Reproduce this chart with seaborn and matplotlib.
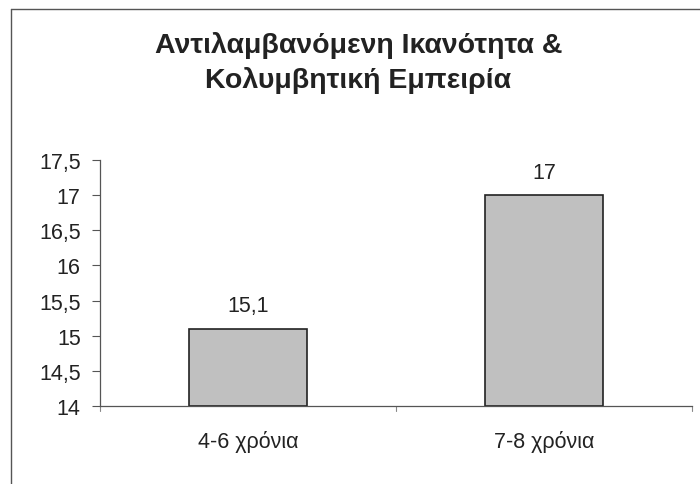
import matplotlib
matplotlib.use('Agg')
import matplotlib.pyplot as plt
import seaborn as sns
import pandas as pd
from matplotlib.lines import Line2D
from matplotlib.ticker import FuncFormatter


title = 'Αντιλαμβανόμενη Ικανότητα &\nΚολυμβητική Εμπειρία'
groups = ['4-6 χρόνια', '7-8 χρόνια']
scores = [15.1, 17]
score_labels = ['15,1', '17']

sns.set_style('white')
plt.rcParams['font.family'] = ['Liberation Sans', 'DejaVu Sans']

df = pd.DataFrame({'group': groups, 'score': scores})

fig = plt.figure(figsize=(7, 4.85), dpi=100)
ax = fig.add_axes([0.143, 0.161, 0.846, 0.507])

sns.barplot(df, x='group', y='score', color='#c0c0c0', edgecolor='#222222',
            linewidth=1.2, width=0.4, saturation=1, ax=ax)
# bars start at 14 rather than 0
for p, v in zip(ax.patches, scores):
    p.set_y(14)
    p.set_height(v - 14)

ax.set_ylim(14, 17.5)
ax.set_xlim(-0.5, 1.5)
ax.set_yticks([14, 14.5, 15, 15.5, 16, 16.5, 17, 17.5])
ax.yaxis.set_major_formatter(FuncFormatter(lambda v, _: f'{v:g}'.replace('.', ',')))
ax.set_xlabel('')
ax.set_ylabel('')
ax.tick_params(axis='y', left=True, length=6, width=0.8, color='#555555',
               labelsize=15.5, pad=8, labelcolor='#222222')
ax.tick_params(axis='x', bottom=False, labelsize=15.5, pad=14, labelcolor='#222222')
# category boundary ticks on x axis
for xb in [-0.5, 0.5, 1.5]:
    ax.plot([xb, xb], [0, -0.02], transform=ax.get_xaxis_transform(),
            color='#888888', lw=0.8, clip_on=False)

for s in ['top', 'right']:
    ax.spines[s].set_visible(False)
for s in ['left', 'bottom']:
    ax.spines[s].set_color('#555555')
    ax.spines[s].set_linewidth(0.9)

ax.bar_label(ax.containers[0], labels=score_labels, padding=9,
             fontsize=15.5, color='#222222')

fig.text(0.512, 0.871, title, ha='center', va='center', fontsize=20.5,
         fontweight='bold', color='#222222', linespacing=1.38)

# chart frame: only top and left edges show in the reference
fig.lines.append(Line2D([0.015, 0.015], [0, 0.98], transform=fig.transFigure,
                        color='#555555', lw=1.0))
fig.lines.append(Line2D([0.015, 1], [0.98, 0.98], transform=fig.transFigure,
                        color='#555555', lw=1.0))

fig.savefig('out.png', dpi=100)
